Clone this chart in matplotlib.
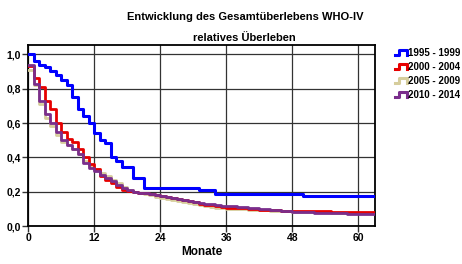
import matplotlib
matplotlib.use("Agg")
import matplotlib.pyplot as plt
from matplotlib.lines import Line2D
from matplotlib.legend_handler import HandlerBase
from matplotlib.ticker import FuncFormatter

plt.rcParams['font.family'] = ['Liberation Sans', 'DejaVu Sans']

title1 = "Entwicklung des Gesamtüberlebens WHO-IV"
title2 = "relatives Überleben"
xlabel = "Monate"
labels = ["1995 - 1999", "2000 - 2004", "2005 - 2009", "2010 - 2014"]
colors = ["#0000FF", "#E60000", "#D6CD9C", "#7A2E8C"]

# step curves: month where each level begins, and the level
t_1995 = [0, 1, 2, 3, 4, 5, 6, 7, 8, 9, 10, 11, 12, 13, 14, 15, 16, 17, 19, 21, 31, 34, 50, 63]
s_1995 = [1.0, 0.963, 0.94, 0.925, 0.905, 0.88, 0.85, 0.82, 0.75, 0.68, 0.64, 0.6, 0.54, 0.5, 0.485, 0.4, 0.38, 0.345, 0.28, 0.222, 0.208, 0.188, 0.174, 0.174]

t_2000 = [0, 1, 2, 3, 4, 5, 6, 7, 8, 9, 10, 11, 12, 13, 14, 15, 16, 17, 18, 19, 20, 21, 22, 23, 24, 25, 26, 27, 28, 29, 30, 31, 32, 33, 34, 35, 36, 38, 40, 42, 44, 46, 48, 51, 55, 63]
s_2000 = [0.93, 0.86, 0.81, 0.73, 0.68, 0.6, 0.55, 0.51, 0.49, 0.45, 0.40, 0.36, 0.33, 0.29, 0.27, 0.25, 0.23, 0.21, 0.205, 0.2, 0.195, 0.19, 0.185, 0.18, 0.175, 0.17, 0.165, 0.16, 0.152, 0.145, 0.138, 0.13, 0.125, 0.12, 0.115, 0.11, 0.107, 0.103, 0.099, 0.095, 0.093, 0.09, 0.088, 0.086, 0.084, 0.084]

t_2005 = [0, 1, 2, 3, 4, 5, 6, 7, 8, 9, 10, 11, 12, 13, 14, 15, 16, 17, 18, 19, 20, 21, 22, 23, 24, 25, 26, 27, 28, 29, 30, 31, 32, 33, 34, 35, 36, 38, 40, 42, 44, 46, 48, 51, 55, 58, 63]
s_2005 = [0.91, 0.82, 0.71, 0.63, 0.58, 0.53, 0.49, 0.47, 0.45, 0.42, 0.38, 0.35, 0.33, 0.31, 0.29, 0.27, 0.25, 0.23, 0.21, 0.2, 0.192, 0.185, 0.178, 0.17, 0.163, 0.157, 0.15, 0.144, 0.138, 0.132, 0.126, 0.12, 0.115, 0.11, 0.106, 0.103, 0.1, 0.097, 0.094, 0.091, 0.088, 0.085, 0.082, 0.08, 0.078, 0.077, 0.077]

t_2010 = [0, 1, 2, 3, 4, 5, 6, 7, 8, 9, 10, 11, 12, 13, 14, 15, 16, 17, 18, 19, 20, 21, 22, 23, 24, 25, 26, 27, 28, 29, 30, 31, 32, 33, 34, 35, 36, 38, 40, 42, 44, 46, 48, 50, 52, 55, 58, 63]
s_2010 = [0.94, 0.83, 0.73, 0.65, 0.6, 0.55, 0.5, 0.47, 0.45, 0.42, 0.37, 0.34, 0.32, 0.30, 0.28, 0.26, 0.24, 0.22, 0.21, 0.2, 0.195, 0.19, 0.185, 0.18, 0.175, 0.17, 0.165, 0.158, 0.152, 0.146, 0.14, 0.135, 0.13, 0.126, 0.122, 0.119, 0.116, 0.11, 0.104, 0.098, 0.092, 0.087, 0.083, 0.08, 0.077, 0.074, 0.072, 0.072]

series = [(t_1995, s_1995), (t_2000, s_2000), (t_2005, s_2005), (t_2010, s_2010)]

fig = plt.figure(figsize=(4.62, 2.64), dpi=100)
ax = fig.add_axes([28/462, 1-226/264, (375-28)/462, (226-45)/264])

order = [2, 1, 3, 0]
handles = [None]*4
for i in order:
    t, s = series[i]
    ln, = ax.step(t, s, where='post', color=colors[i], lw=2.0 if i != 0 else 2.2,
                  label=labels[i], zorder=3 + (i == 0))
    handles[i] = ln

ax.set_xlim(0, 63)
ax.set_ylim(0, 1.055)
ax.set_xticks([0, 12, 24, 36, 48, 60])
ax.set_yticks([0.0, 0.2, 0.4, 0.6, 0.8, 1.0])
ax.yaxis.set_major_formatter(FuncFormatter(lambda v, p: f"{v:.1f}".replace('.', ',')))
ax.grid(True, color='#333333', lw=0.9)
ax.set_axisbelow(True)
for sp in ax.spines.values():
    sp.set_linewidth(1.3)
    sp.set_color('black')
ax.tick_params(length=4, width=1, color='#333333', labelsize=7.5, pad=1)
for lab in ax.get_xticklabels() + ax.get_yticklabels():
    lab.set_fontweight('bold')
ax.set_xlabel(xlabel, fontsize=8.5, fontweight='bold', labelpad=2)

fig.text(0.53, 1-17/264, title1, ha='center', va='center', fontsize=8, fontweight='bold')
fig.text(0.53, 1-38/264, title2, ha='center', va='center', fontsize=8, fontweight='bold')


class StepHandler(HandlerBase):
    def create_artists(self, legend, orig_handle, xdescent, ydescent, width, height, fontsize, trans):
        x0, y0 = -xdescent, -ydescent
        xs = [x0, x0 + width*0.35, x0 + width*0.35, x0 + width, x0 + width]
        ys = [y0 + height*0.15, y0 + height*0.15, y0 + height*0.85, y0 + height*0.85, y0 + height*0.15]
        l = Line2D(xs, ys, color=orig_handle.get_color(), lw=2.2, transform=trans)
        return [l]


leg = fig.legend(handles, labels, loc='upper left', bbox_to_anchor=(395/462, 1-48/264),
                 frameon=False, fontsize=7, handlelength=1.2, handletextpad=0.1,
                 labelspacing=0.42, borderpad=0, borderaxespad=0,
                 handler_map={Line2D: StepHandler()})
for t in leg.get_texts():
    t.set_fontweight('bold')

fig.savefig("out.png", dpi=100)
